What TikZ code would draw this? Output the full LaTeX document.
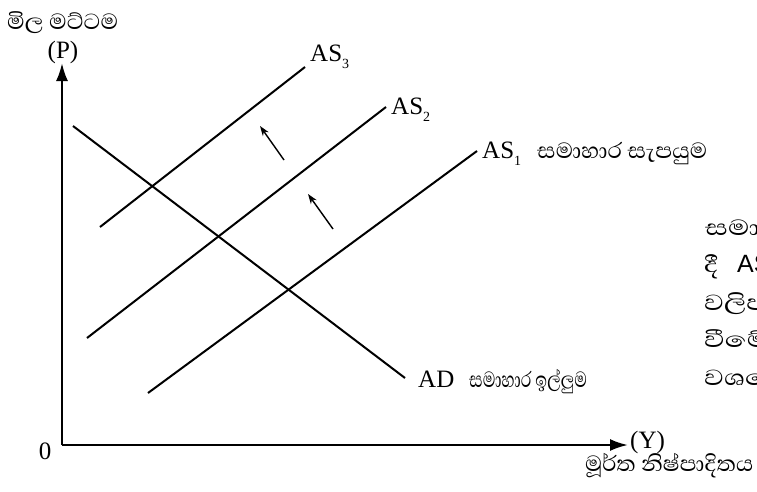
\documentclass[tikz,border=0pt]{standalone}
\usepackage{fontspec}
\setmainfont{Liberation Serif}
\newfontfamily\sinhalafont[Script=Sinhala]{Abhaya Libre}
\newfontfamily\latsans{Liberation Sans}
\usetikzlibrary{arrows.meta}
\newcommand\mysub[1]{\raisebox{-0.3em}{\fontsize{14pt}{14pt}\selectfont #1}}
\newcommand\fitw[2]{\resizebox{#1}{\height}{#2}}
\tikzset{
  axisline/.style={line width=2.4pt,-{Latex[length=18pt,width=12pt]}},
  curveline/.style={line width=2pt},
  shiftarrow/.style={line width=1.4pt,-{Stealth[length=10pt,width=7pt]}},
  lattxt/.style={font=\fontsize{25pt}{28pt}\selectfont, inner sep=0pt},
  sintxt/.style={font=\fontsize{28pt}{32pt}\selectfont\sinhalafont, inner sep=0pt, anchor=base west},
  rtext/.style={font=\fontsize{28pt}{32pt}\selectfont\sinhalafont, inner sep=0pt, anchor=base west},
}
\begin{document}
\begin{tikzpicture}[x=1pt,y=-1pt]
\useasboundingbox (0,0) rectangle (757,491);
\clip (0,0) rectangle (757,491);
% axes
\coordinate (O) at (62,445);
\coordinate (Ytop) at (62,63);
\coordinate (Xend) at (628,445);
\draw[axisline] (O) -- (Ytop);
\draw[axisline] (O) -- (Xend);
% curves
\coordinate (as3a) at (100,227); \coordinate (as3b) at (305,67);
\coordinate (as2a) at (87,338);  \coordinate (as2b) at (386,107);
\coordinate (as1a) at (148,393); \coordinate (as1b) at (477,151);
\coordinate (ada) at (73,126);   \coordinate (adb) at (405,378);
\draw[curveline] (as3a) -- (as3b);
\draw[curveline] (as2a) -- (as2b);
\draw[curveline] (as1a) -- (as1b);
\draw[curveline] (ada) -- (adb);
% shift arrows
\coordinate (s1a) at (284,160); \coordinate (s1b) at (260,126);
\coordinate (s2a) at (333,229); \coordinate (s2b) at (308,194);
\draw[shiftarrow] (s1a) -- (s1b);
\draw[shiftarrow] (s2a) -- (s2b);
% labels
\node[sintxt] (pl) at (7,29) {\fitw{111pt}{මිල මට්ටම}};
\node[lattxt] (P) at (63,52) {(P)};
\node[lattxt,anchor=base west] (AS3) at (310,61) {AS\mysub{3}};
\node[lattxt,anchor=base west] (AS2) at (391,114) {AS\mysub{2}};
\node[lattxt,anchor=base west] (AS1) at (482,158) {AS\mysub{1}};
\node[sintxt] (as1t) at (537,158) {\fitw{170pt}{සමාහාර සැපයුම}};
\node[lattxt,anchor=base west] (AD) at (418,387) {AD};
\node[sintxt] (adt) at (469,387) {\fitw{118pt}{සමාහාර ඉල්ලුම}};
\node[lattxt] (zero) at (45,451) {0};
\node[lattxt,anchor=west] (Y) at (630,442) {(Y)};
\node[sintxt] (yl) at (585,471) {\fitw{168pt}{මූර්ත නිෂ්පාදිතය}};
% right text (cut by the edge)
\node[rtext] (r1) at (705,235) {\fitw{210pt}{සමාහාර සැපයුම}};
\node[rtext] (r2) at (704,272) {\scalebox{1.2}[1]{දී}};
\node[lattxt,anchor=base west,font=\fontsize{25pt}{28pt}\selectfont\latsans] (r2b) at (737,272) {AS\mysub{1}};
\node[rtext] (r3) at (704,310) {\scalebox{1.25}[1]{වලිප}};
\node[rtext] (r4) at (704,347) {\scalebox{1.3}[1]{වීමේ}};
\node[rtext] (r5) at (704,385) {\scalebox{1.25}[1]{වශයෙන්}};
\end{tikzpicture}
\end{document}
